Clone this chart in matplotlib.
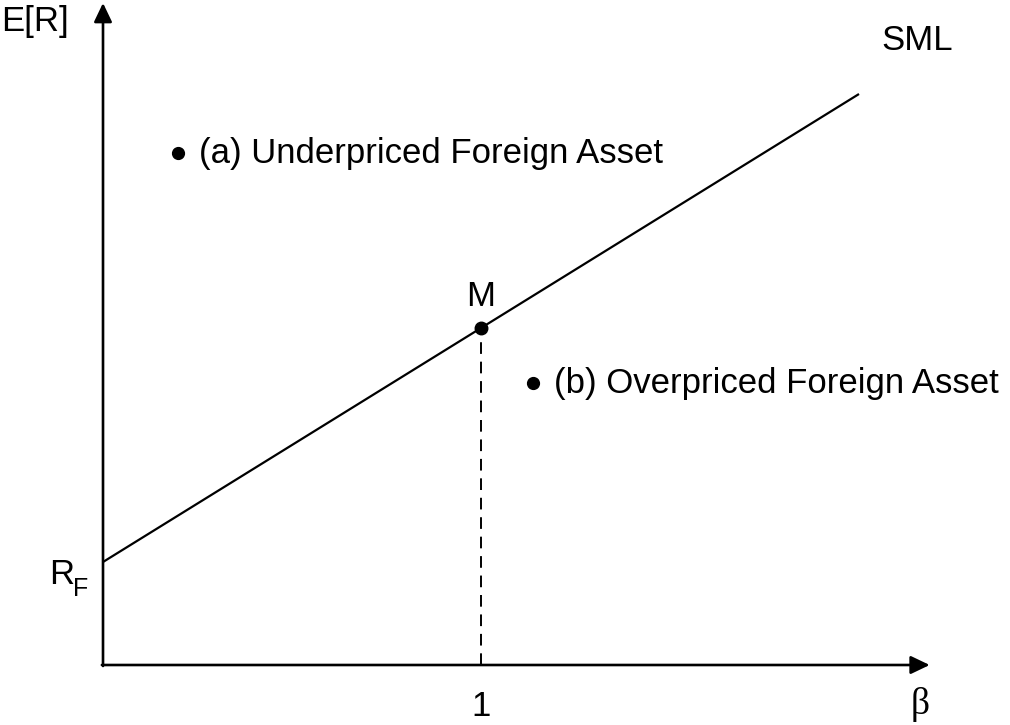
import matplotlib.pyplot as plt

# data (beta, expected return); y in arbitrary units
rf = 1.03
m_beta, m_ret = 1.0, 3.37
sml_beta = [0.0, 2.0]
sml_slope = m_ret - rf
sml_ret = [rf + sml_slope * b for b in sml_beta]
asset_a = (0.198, 5.12)
asset_b = (1.138, 2.82)
label_a = "(a) Underpriced Foreign Asset"
label_b = "(b) Overpriced Foreign Asset"

plt.rcParams['font.family'] = ['Liberation Sans', 'DejaVu Sans']

fig = plt.figure(figsize=(10.1, 7.25), dpi=100)
ax = fig.add_axes([0, 0, 1, 1])
ax.set_xlim(-0.2725, 2.3995)
ax.set_ylim(-0.6, 6.65)
ax.axis('off')

# axes with arrows
arrow = dict(arrowstyle='-|>,head_length=1.15,head_width=0.55', color='black', lw=1.9,
             shrinkA=0, shrinkB=0)
ax.annotate('', xy=(0, 6.62), xytext=(0, -0.01), arrowprops=arrow)
ax.annotate('', xy=(2.187, 0), xytext=(-0.003, 0), arrowprops=arrow)

# SML
ax.plot(sml_beta, sml_ret, color='black', lw=1.6, solid_capstyle='butt')
ax.plot([m_beta, m_beta], [0, m_ret], color='black', lw=1.4, ls=(0, (6, 4)))
ax.plot(m_beta, m_ret, 'o', color='black', ms=9)

# assets
ax.plot(*asset_a, 'o', color='black', ms=8.5)
ax.plot(*asset_b, 'o', color='black', ms=8.5)
fs = 25
ax.text(asset_a[0] + 0.055, asset_a[1], label_a, fontsize=fs, va='center', ha='left')
ax.text(asset_b[0] + 0.055, asset_b[1], label_b, fontsize=fs, va='center', ha='left')

# labels
ax.text(-0.18, 6.43, 'E[R]', fontsize=fs, va='center', ha='center')
ax.text(2.155, 6.25, 'SML', fontsize=fs, va='center', ha='center')
ax.text(m_beta, 3.68, 'M', fontsize=fs, va='center', ha='center')
ax.text(m_beta, -0.42, '1', fontsize=fs, va='center', ha='center')
ax.text(2.161, -0.40, 'β', fontsize=fs + 2, va='center', ha='center',
        family='Liberation Serif')
ax.text(-0.11, 0.90, 'R', fontsize=fs, va='center', ha='center')
ax.text(-0.06, 0.76, 'F', fontsize=18, va='center', ha='center')

fig.savefig('out.png', dpi=100)
